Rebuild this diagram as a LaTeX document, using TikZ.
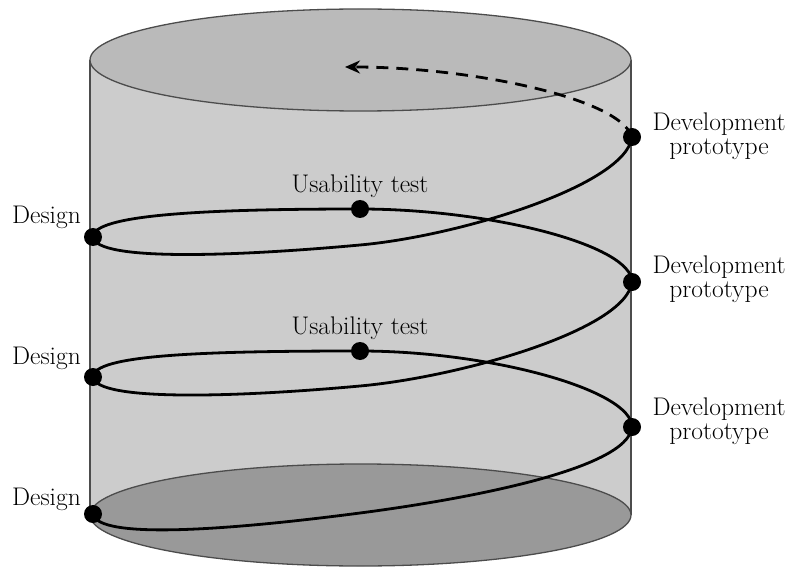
\documentclass[tikz,border=0pt]{standalone}
\usetikzlibrary{arrows.meta}
\definecolor{bodyc}{gray}{0.80}
\definecolor{topc}{gray}{0.73}
\definecolor{botc}{gray}{0.60}
\definecolor{rimc}{gray}{0.30}
\begin{document}
\begin{tikzpicture}[x=1pt,y=-1pt,
  dot/.style={circle,fill=black,inner sep=0pt,minimum size=18pt},
  helix/.style={line width=2.8pt,black},
  rim/.style={draw=rimc,line width=1.3pt},
  lbl/.style={inner sep=0pt,font=\fontsize{25.5}{24}\selectfont},
  devlbl/.style={lbl,align=center,anchor=north}]
\useasboundingbox (0,0) rectangle (794,569);
% cylinder
\fill[bodyc] (90,60) rectangle (631,515);
\draw[rim] (90,60) -- (90,515);
\draw[rim] (631,60) -- (631,515);
\filldraw[fill=botc,rim] (360.5,515) ellipse[x radius=270.5,y radius=51];
\filldraw[fill=topc,rim] (360.5,60) ellipse[x radius=270.5,y radius=51];
% dots
\node[dot] (d3) at (93,514) {};
\node[dot] (p3) at (632,427) {};
\node[dot] (u2) at (360,351) {};
\node[dot] (d2) at (93,377) {};
\node[dot] (p2) at (632,282) {};
\node[dot] (u1) at (360,209) {};
\node[dot] (d1) at (93,237) {};
\node[dot] (p1) at (632,137) {};
\coordinate (f3) at (360,513);
\coordinate (f2) at (360,386);
\coordinate (f1) at (360,245);
\coordinate (a) at (345,67);
% helix
\draw[helix] (d3.center) .. controls (98,540) and (230,530) .. (f3)
  .. controls (460,500) and (628,470) .. (p3.center)
  .. controls (632,390) and (490,351) .. (u2.center)
  .. controls (200,351) and (93,355) .. (d2.center)
  .. controls (96,402) and (240,397) .. (f2)
  .. controls (460,377) and (626,330) .. (p2.center)
  .. controls (632,245) and (490,209) .. (u1.center)
  .. controls (200,209) and (93,215) .. (d1.center)
  .. controls (96,262) and (240,256) .. (f1)
  .. controls (460,236) and (626,185) .. (p1.center);
\draw[helix,dash pattern=on 12pt off 8pt,-{Stealth[length=15pt,width=13pt]}]
  (p1.center) .. controls (620,98) and (470,67) .. (a);
% labels
\node[lbl,anchor=base east] (ld1) at (81,223) {Design};
\node[lbl,anchor=base east] (ld2) at (81,364) {Design};
\node[lbl,anchor=base east] (ld3) at (81,505) {Design};
\node[lbl,anchor=base] (lu1) at (360,193) {Usability test};
\node[lbl,anchor=base] (lu2) at (360,334) {Usability test};
\node[devlbl] (lp1) at (719,112.3) {Development\\prototype};
\node[devlbl] (lp2) at (719,255.3) {Development\\prototype};
\node[devlbl] (lp3) at (719,397.3) {Development\\prototype};
\end{tikzpicture}
\end{document}
